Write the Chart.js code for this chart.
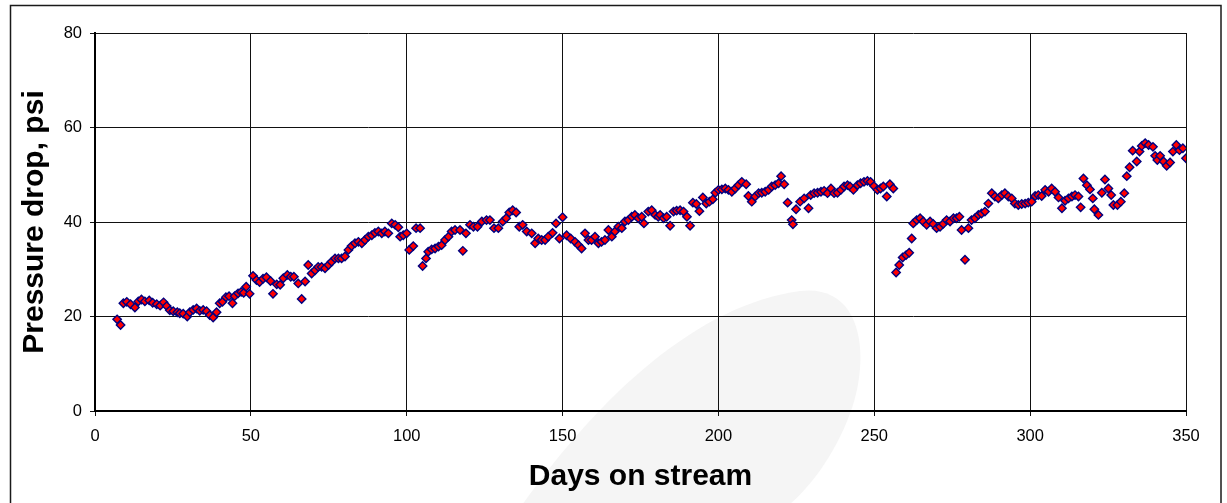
<!DOCTYPE html>
<html>
<head>
<meta charset="utf-8">
<title>Pressure drop vs days on stream</title>
<script src="https://cdn.jsdelivr.net/npm/chart.js@4.4.1/dist/chart.umd.min.js"></script>
<style>
  html, body { margin: 0; padding: 0; background: #fff; }
  #chart { display: block; }
</style>
</head>
<body>
<canvas id="chart" width="1227" height="503"></canvas>
<script>
// Pressure drop log - one reading per day on stream

const days = [
  7.1, 8.2, 9.1, 10.2, 11.4, 12.8, 13.9, 14.9, 16.0, 17.4, 18.5, 19.8, 20.9, 22.0, 23.0, 24.0,
  25.1, 26.4, 27.2, 28.3, 29.6, 30.4, 31.5, 32.6, 33.6, 34.7, 35.8, 36.8, 37.9, 39.0, 40.0, 40.9,
  42.0, 43.0, 44.1, 44.8, 45.9, 46.9, 47.7, 48.5, 49.6, 50.7, 51.8, 52.8, 53.9, 55.0, 56.3, 57.1,
  58.3, 59.4, 60.4, 61.7, 62.8, 63.8, 65.2, 66.3, 67.4, 68.4, 69.5, 70.6, 71.6, 72.7, 73.8, 74.9,
  75.9, 77.0, 78.1, 79.1, 80.2, 81.3, 82.3, 83.4, 84.5, 85.6, 86.6, 87.7, 88.8, 89.8, 90.9, 92.0,
  93.0, 94.1, 95.2, 96.3, 97.3, 97.9, 98.9, 100.0, 100.8, 102.1, 103.0, 104.3, 105.1, 106.2, 106.9, 108.0,
  109.1, 110.2, 111.2, 112.3, 113.4, 114.4, 115.5, 117.1, 118.0, 119.0, 120.3, 121.4, 122.7, 124.1, 125.6, 126.7,
  128.0, 129.4, 130.8, 131.9, 132.9, 134.0, 135.1, 136.1, 137.2, 138.5, 140.1, 141.2, 142.2, 143.3, 144.4, 145.4,
  146.8, 147.9, 149.0, 150.0, 151.3, 152.6, 154.0, 155.1, 156.1, 157.2, 158.3, 159.3, 160.4, 161.5, 162.5, 163.6,
  164.7, 165.8, 166.8, 167.9, 169.0, 170.0, 171.1, 172.2, 173.2, 174.3, 175.4, 176.1, 177.5, 178.6, 179.7, 180.7,
  181.3, 182.4, 183.4, 184.5, 185.6, 186.6, 187.7, 188.8, 189.9, 190.9, 191.8, 192.9, 193.9, 195.0, 196.1, 197.1,
  198.2, 199.0, 200.0, 201.1, 202.2, 203.2, 204.3, 205.4, 206.4, 207.5, 208.9, 209.6, 210.7, 211.8, 212.9, 213.9,
  215.0, 216.1, 217.1, 218.2, 219.3, 220.1, 221.1, 222.2, 223.5, 223.9, 224.9, 226.2, 227.5, 228.9, 229.6, 230.7,
  231.8, 232.9, 233.9, 235.0, 236.1, 237.1, 238.2, 239.3, 240.3, 241.4, 242.2, 243.3, 244.6, 245.6, 246.7, 247.8,
  248.8, 249.9, 251.0, 252.0, 252.9, 254.0, 255.0, 256.1, 257.0, 258.0, 259.1, 260.2, 261.2, 262.0, 262.5, 263.6,
  264.7, 265.7, 266.8, 267.9, 268.9, 270.0, 271.1, 272.1, 273.2, 274.3, 275.4, 276.4, 277.3, 278.0, 279.1, 280.2,
  281.2, 282.3, 283.4, 284.4, 285.5, 286.6, 287.7, 288.7, 289.8, 290.9, 291.9, 293.0, 294.1, 295.1, 296.2, 297.3,
  298.4, 299.4, 300.5, 301.6, 302.6, 303.7, 304.8, 305.9, 306.9, 308.0, 309.1, 310.2, 311.2, 312.3, 313.4, 314.4,
  315.5, 316.2, 317.1, 318.2, 319.2, 320.1, 320.6, 321.9, 323.0, 324.0, 325.1, 326.0, 326.7, 328.0, 329.1, 330.2,
  331.0, 331.9, 332.9, 334.2, 335.1, 335.8, 336.9, 338.0, 339.4, 340.1, 340.8, 341.7, 342.8, 343.8, 344.9, 345.8,
  346.9, 347.9, 349.0, 350.0
];

const dropPsi = [
  19.4, 18.2, 22.8, 23.1, 22.6, 21.9, 23.2, 23.6, 23.2, 23.4, 22.9, 22.6, 22.3, 23.0, 22.2, 21.3,
  21.1, 20.9, 20.7, 20.6, 20.0, 20.9, 21.4, 21.7, 21.2, 21.4, 21.1, 20.3, 19.8, 20.9, 22.8, 23.1,
  24.1, 24.3, 22.8, 24.3, 24.9, 25.2, 25.0, 26.3, 24.8, 28.6, 27.7, 27.3, 28.0, 28.3, 27.5, 24.8,
  26.8, 26.7, 28.1, 28.8, 28.4, 28.4, 27.0, 23.7, 27.4, 30.9, 29.1, 29.8, 30.5, 30.5, 30.2, 30.9,
  31.6, 32.3, 32.3, 32.3, 32.7, 34.1, 34.9, 35.5, 35.8, 35.5, 36.2, 36.9, 37.2, 37.7, 38.0, 37.6,
  38.0, 37.6, 39.7, 39.4, 38.9, 36.9, 37.2, 37.6, 34.1, 34.9, 38.7, 38.7, 30.7, 32.3, 33.7, 34.2,
  34.4, 34.8, 35.1, 36.2, 36.9, 38.0, 38.3, 38.3, 33.9, 37.6, 39.4, 39.0, 39.0, 40.1, 40.4, 40.4,
  38.7, 38.7, 40.1, 40.8, 42.0, 42.5, 42.0, 39.0, 39.4, 38.0, 37.6, 35.5, 36.5, 36.2, 36.2, 36.9,
  37.7, 39.7, 36.5, 41.0, 37.2, 36.5, 35.8, 35.1, 34.4, 37.6, 36.2, 36.2, 36.9, 35.5, 35.8, 36.2,
  38.3, 36.9, 38.0, 39.0, 38.7, 40.1, 40.4, 41.1, 41.5, 40.8, 41.1, 39.7, 42.2, 42.5, 41.5, 41.1,
  41.5, 40.8, 41.1, 39.2, 42.2, 42.4, 42.5, 42.2, 41.1, 39.2, 44.1, 43.8, 42.3, 45.2, 43.9, 44.3,
  44.8, 46.2, 46.8, 46.9, 47.1, 46.8, 46.4, 47.1, 47.8, 48.5, 48.0, 45.5, 44.3, 45.4, 46.1, 46.2,
  46.4, 46.8, 47.5, 47.8, 48.2, 49.7, 48.0, 44.1, 40.4, 39.5, 42.7, 44.3, 45.0, 42.9, 45.7, 46.1,
  46.2, 46.4, 46.6, 46.1, 47.1, 46.1, 46.2, 46.8, 47.5, 47.8, 47.5, 46.8, 47.8, 48.2, 48.5, 48.7,
  48.5, 47.6, 46.8, 47.1, 47.5, 45.4, 48.0, 47.1, 29.3, 30.9, 32.5, 33.0, 33.5, 36.5, 39.7, 40.4,
  40.8, 40.1, 39.4, 40.1, 39.6, 38.7, 39.0, 39.6, 40.4, 40.1, 40.8, 40.8, 41.1, 38.3, 32.0, 38.7,
  40.4, 40.8, 41.5, 41.8, 42.2, 43.9, 46.1, 45.4, 45.0, 45.7, 46.1, 45.4, 45.0, 43.9, 43.6, 43.8,
  43.9, 44.1, 44.3, 45.5, 45.7, 45.5, 46.8, 46.4, 47.1, 46.4, 45.2, 42.9, 44.5, 45.0, 45.4, 45.7,
  45.4, 43.1, 49.2, 47.8, 46.9, 45.0, 42.7, 41.5, 46.2, 49.0, 47.1, 45.7, 43.6, 43.6, 44.3, 46.1,
  49.7, 51.6, 55.1, 52.8, 54.9, 56.1, 56.7, 56.3, 55.9, 54.0, 53.1, 54.0, 52.8, 51.9, 52.6, 54.9,
  56.3, 55.2, 55.6, 53.5
];

const xTicks = [0, 50, 100, 150, 200, 250, 300, 350];
const yTicks = [0, 20, 40, 60, 80];

const FONT = "'Liberation Sans', Arial, Helvetica, sans-serif";

// white page, faint grey petal behind the plot, and the outer frame
const backdrop = {
  id: 'backdrop',
  beforeDraw(chart) {
    const ctx = chart.ctx;
    ctx.save();
    ctx.fillStyle = '#ffffff';
    ctx.fillRect(0, 0, chart.width, chart.height);

    ctx.fillStyle = '#f5f5f5';
    ctx.beginPath();
    ctx.moveTo(515, 515);
    ctx.bezierCurveTo(595, 400, 695, 305, 800, 291);
    ctx.bezierCurveTo(860, 284, 870, 350, 853, 405);
    ctx.bezierCurveTo(835, 460, 800, 500, 775, 515);
    ctx.closePath();
    ctx.fill();

    ctx.strokeStyle = '#1a1a1a';
    ctx.lineWidth = 1.5;
    ctx.strokeRect(10.5, 5.5, 1210.5, 520);
    ctx.restore();
  }
};

new Chart(document.getElementById('chart'), {
  type: 'scatter',
  data: {
    datasets: [{
      label: 'Pressure drop',
      data: days.map((d, i) => ({ x: d, y: dropPsi[i] })),
      pointStyle: 'rectRot',
      pointRadius: 4.2,
      pointBackgroundColor: '#ff0000',
      pointBorderColor: '#000080',
      pointBorderWidth: 1.4
    }]
  },
  options: {
    responsive: false,
    animation: false,
    layout: { padding: { left: 0, top: 33, right: 41, bottom: 0 } },
    plugins: {
      legend: { display: false },
      tooltip: { enabled: false }
    },
    scales: {
      x: {
        type: 'linear',
        min: 0,
        max: 350,
        afterBuildTicks: s => { s.ticks = xTicks.map(v => ({ value: v })); },
        afterFit: s => { s.height = 92; },
        grid: { color: '#111', lineWidth: 1, tickLength: 5, drawTicks: true },
        border: { color: '#000', width: 2 },
        ticks: { color: '#000', font: { family: FONT, size: 16.5 }, padding: 11, maxRotation: 0 },
        title: {
          display: true,
          text: 'Days on stream',
          color: '#000',
          font: { family: FONT, size: 30, weight: 'bold', lineHeight: 1.2 },
          padding: { top: 0, bottom: 8 }
        }
      },
      y: {
        type: 'linear',
        min: 0,
        max: 80,
        afterBuildTicks: s => { s.ticks = yTicks.map(v => ({ value: v })); },
        afterFit: s => { s.width = 95; },
        grid: { color: '#111', lineWidth: 1, tickLength: 5, drawTicks: true },
        border: { color: '#000', width: 2 },
        ticks: { color: '#000', font: { family: FONT, size: 16.5 }, padding: 8 },
        title: {
          display: true,
          text: 'Pressure drop, psi',
          color: '#000',
          font: { family: FONT, size: 30, weight: 'bold', lineHeight: 1.2 },
          padding: { top: 17, bottom: 0 }
        }
      }
    }
  },
  plugins: [backdrop]
});
</script>
</body>
</html>
